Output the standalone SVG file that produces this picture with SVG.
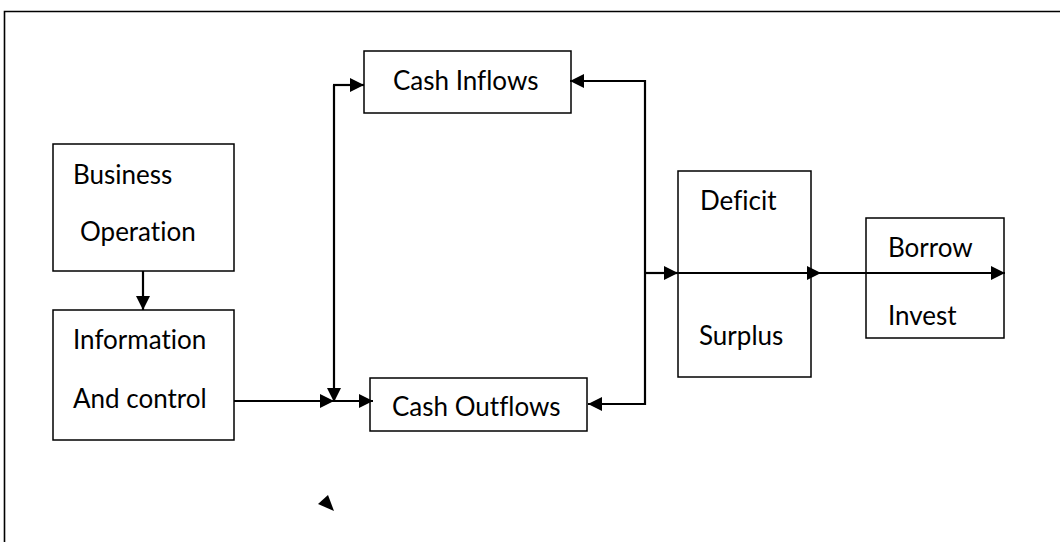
<svg xmlns="http://www.w3.org/2000/svg" width="1060" height="542" viewBox="0 0 1060 542">
  <style>
    .box { fill: #fff; stroke: #000; stroke-width: 1.5; }
    .lbl { font-family: Lato, "Open Sans", "Liberation Sans", sans-serif; font-size: 26px; fill: #000; font-variant-ligatures: none; }
    .wire { fill: none; stroke: #000; stroke-width: 2.2; }
  </style>
  <defs>
    <marker id="head" markerUnits="userSpaceOnUse" markerWidth="15" markerHeight="14" refX="14" refY="7" orient="auto">
      <path d="M0,0 L14,7 L0,14 Z" fill="#000"/>
    </marker>
  </defs>
  <rect width="1060" height="542" fill="#fff"/>
  <!-- page frame -->
  <path d="M4.5,542 V11.5 H1060" fill="none" stroke="#000" stroke-width="1.6"/>

  <g id="business">
    <rect class="box" x="53" y="144" width="181" height="127"/>
    <text class="lbl" x="73" y="184">Business</text>
    <text class="lbl" x="80" y="241">Operation</text>
  </g>
  <g id="information">
    <rect class="box" x="53" y="310" width="181" height="130"/>
    <text class="lbl" x="73" y="349">Information</text>
    <text class="lbl" x="73" y="408">And control</text>
  </g>
  <g id="cash-inflows">
    <rect class="box" x="364" y="51" width="207" height="62"/>
    <text class="lbl" x="393" y="90">Cash Inflows</text>
  </g>
  <g id="cash-outflows">
    <rect class="box" x="370" y="378" width="217" height="53"/>
    <text class="lbl" x="392" y="416">Cash Outflows</text>
  </g>
  <g id="deficit-surplus">
    <rect class="box" x="678" y="171" width="133" height="206"/>
    <text class="lbl" x="700" y="210">Deficit</text>
    <text class="lbl" x="699" y="345">Surplus</text>
  </g>
  <g id="borrow-invest">
    <rect class="box" x="866" y="218" width="138" height="120"/>
    <text class="lbl" x="888" y="257">Borrow</text>
    <text class="lbl" x="888" y="325">Invest</text>
  </g>

  <g id="connectors">
    <path class="wire" d="M143,271 V310" marker-end="url(#head)"/>
    <path class="wire" d="M234,401 H334" marker-end="url(#head)"/>
    <path class="wire" d="M334,401 H373" marker-end="url(#head)"/>
    <path class="wire" d="M334,85 V402" marker-end="url(#head)"/>
    <path class="wire" d="M333,85 H364" marker-end="url(#head)"/>
    <path class="wire" d="M645,81 H570" marker-end="url(#head)"/>
    <path class="wire" d="M645,80 V405"/>
    <path class="wire" d="M646,404 H588" marker-end="url(#head)"/>
    <path class="wire" d="M646,273 H678" marker-end="url(#head)"/>
    <path class="wire" d="M678,273 H821" marker-end="url(#head)"/>
    <path class="wire" d="M821,273 H1005" marker-end="url(#head)"/>
    <!-- loose arrowhead -->
    <path d="M318,504 L328,495 L334,511 Z" fill="#000"/>
  </g>
</svg>
